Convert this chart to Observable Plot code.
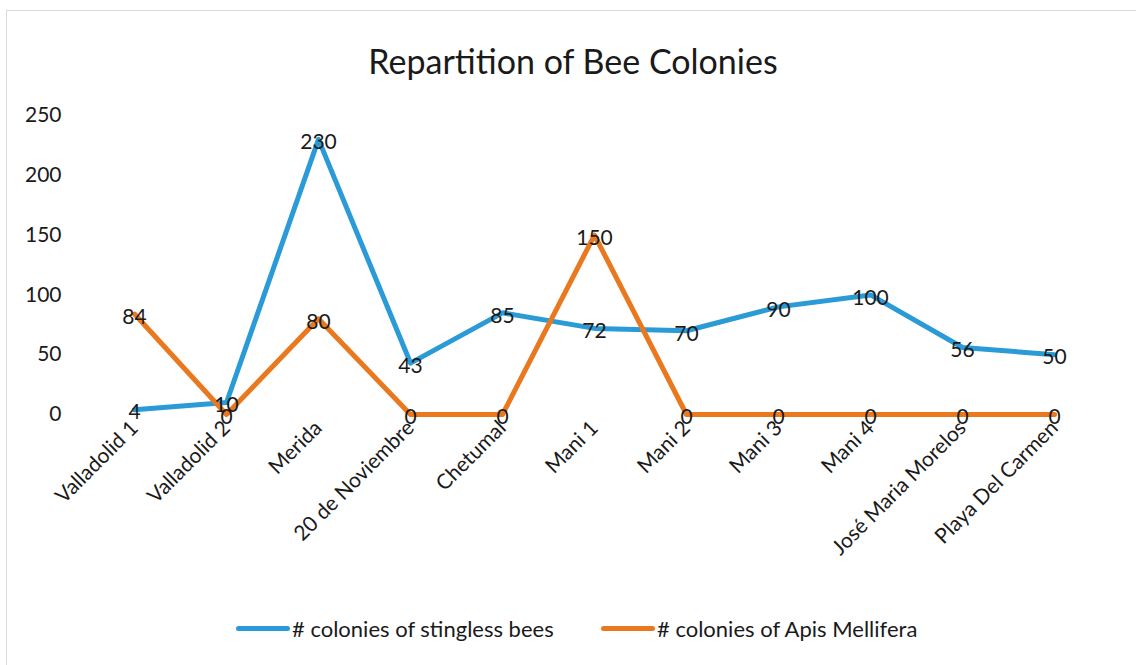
<!DOCTYPE html>
<html>
<head>
<meta charset="utf-8">
<script src="https://cdn.jsdelivr.net/npm/d3@7"></script>
<script src="https://cdn.jsdelivr.net/npm/@observablehq/plot@0.6"></script>
<style>
  html, body { margin: 0; padding: 0; background: #fff; width: 1136px; height: 665px; overflow: hidden; }
  body { font-family: Lato, "Open Sans", sans-serif; position: relative; }
  #frame { position: absolute; left: 6px; top: 10px; width: 1200px; height: 800px; border: 1.5px solid #d9d9d9; box-sizing: border-box; }
  #title { position: absolute; left: 0; top: 40px; width: 1146px; text-align: center; font-size: 34px; color: #1a1a1a; }
  #chart { position: absolute; left: 0; top: 90px; }
  #legend { position: absolute; top: 614px; left: 0; width: 1136px; height: 28px; font-size: 22px; color: #1a1a1a; }
  .item { position: absolute; display: flex; align-items: center; height: 28px; }
  .swatch { display: inline-block; width: 54px; height: 5px; border-radius: 3px; margin-right: 2px; }
  svg text { font-family: Lato, "Open Sans", sans-serif; }
</style>
</head>
<body>
<div id="frame"></div>
<div id="title">Repartition of Bee Colonies</div>
<div id="chart"></div>
<div id="legend"></div>
<script>
const sites = ["Valladolid 1", "Valladolid 2", "Merida", "20 de Noviembre", "Chetumal", "Mani 1", "Mani 2", "Mani 3", "Mani 4", "José Maria Morelos", "Playa Del Carmen"];
const stingless = [4, 10, 230, 43, 85, 72, 70, 90, 100, 56, 50];
const apis = [84, 0, 80, 0, 0, 150, 0, 0, 0, 0, 0];
const seriesNames = ["# colonies of stingless bees", "# colonies of Apis Mellifera"];
const seriesColors = ["#2a9bd6", "#e9781e"];
const yTicks = [0, 50, 100, 150, 200, 250];

const rows = [];
sites.forEach((s, i) => {
  rows.push({site: s, value: stingless[i], series: seriesNames[0]});
});
sites.forEach((s, i) => {
  rows.push({site: s, value: apis[i], series: seriesNames[1]});
});

const chart = Plot.plot({
  width: 1136,
  height: 500,
  marginLeft: 83,
  marginRight: 32,
  marginTop: 25,
  marginBottom: 176,
  style: {fontSize: "21px", color: "#1a1a1a", background: "transparent"},
  x: {type: "point", domain: sites, padding: 0.5, label: null},
  y: {domain: [0, 250], ticks: yTicks, label: null},
  color: {domain: seriesNames, range: seriesColors},
  marks: [
    Plot.gridY(yTicks, {stroke: "#d9d9d9", strokeOpacity: 1, strokeWidth: 1.3, x1: 83, x2: 1106}),
    Plot.axisY({ticks: yTicks, tickSize: 0, tickPadding: 22, fontSize: 21, label: null}),
    Plot.axisX({tickSize: 0, tickRotate: -45, tickPadding: 10, fontSize: 21, label: null}),
    Plot.line(rows, {x: "site", y: "value", z: "series", stroke: "series", strokeWidth: 5, strokeLinejoin: "round", strokeLinecap: "round"}),
    Plot.text(rows, {x: "site", y: "value", text: d => String(d.value), dy: 3, fontSize: 21, fill: "#1a1a1a"})
  ]
});
document.getElementById("chart").appendChild(chart);

const legend = document.getElementById("legend");
const lefts = [236, 601];
seriesNames.forEach((n, i) => {
  const item = document.createElement("div");
  item.className = "item";
  item.style.left = lefts[i] + "px";
  const sw = document.createElement("span");
  sw.className = "swatch";
  sw.style.background = seriesColors[i];
  const t = document.createElement("span");
  t.textContent = n;
  item.appendChild(sw);
  item.appendChild(t);
  legend.appendChild(item);
});
</script>
</body>
</html>
